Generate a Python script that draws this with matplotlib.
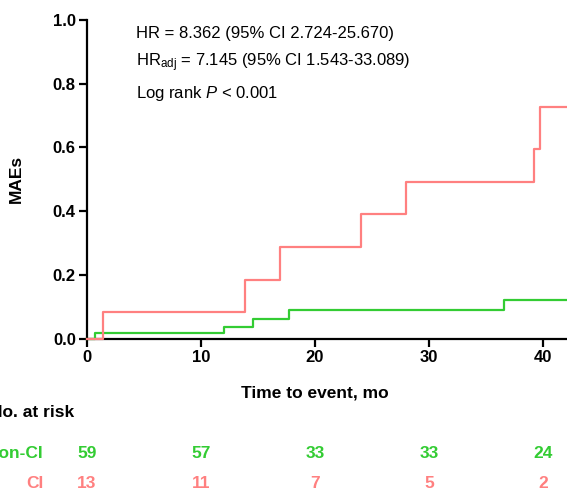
import matplotlib
matplotlib.use("Agg")
import matplotlib.pyplot as plt
import matplotlib.transforms as mtransforms

plt.rcParams['font.family'] = ['Liberation Sans', 'DejaVu Sans']
plt.rcParams['mathtext.fontset'] = 'custom'
plt.rcParams['mathtext.rm'] = 'Liberation Sans'
plt.rcParams['mathtext.it'] = 'Liberation Sans:italic'
plt.rcParams['mathtext.bf'] = 'Liberation Sans:bold'

# curve data (cumulative incidence of MAEs)
ci_time = [0, 1.4, 13.9, 16.9, 24.0, 28.0, 39.2, 39.7, 42.2]
ci_mae = [0, 0.083, 0.185, 0.288, 0.390, 0.492, 0.594, 0.728, 0.728]
nonci_time = [0, 0.7, 12.0, 14.6, 17.7, 36.6, 42.2]
nonci_mae = [0, 0.018, 0.037, 0.063, 0.090, 0.121, 0.121]

# numbers at risk
risk_times = [0, 10, 20, 30, 40]
risk_nonci = [59, 57, 33, 33, 24]
risk_ci = [13, 11, 7, 5, 2]

red = '#FF8080'
green = '#33CC33'

fig = plt.figure(figsize=(5.67, 4.91), dpi=100)
ax = fig.add_axes([0.1534, 0.3102, 0.8466, 0.6491])

ax.step(nonci_time, nonci_mae, where='post', color=green, lw=1.6, clip_on=False, zorder=3)
ax.step(ci_time, ci_mae, where='post', color=red, lw=1.6, clip_on=False, zorder=3)

ax.set_xlim(0, 42.1)
ax.set_ylim(0, 1.0)
ax.set_xticks([0, 10, 20, 30, 40])
ax.set_yticks([0, 0.2, 0.4, 0.6, 0.8, 1.0])
ax.set_yticklabels(['0.0', '0.2', '0.4', '0.6', '0.8', '1.0'])
for s in ['top', 'right']:
    ax.spines[s].set_visible(False)
for s in ['left', 'bottom']:
    ax.spines[s].set_linewidth(1.6)
ax.tick_params(width=1.6, length=5.5, labelsize=12, pad=2.5)
for lab in ax.get_xticklabels() + ax.get_yticklabels():
    lab.set_fontweight('bold')
ax.set_ylabel('MAEs', fontsize=12.5, fontweight='bold')
ax.yaxis.set_label_coords(-0.131, 0.5)

ax.text(4.3, 0.958, 'HR = 8.362 (95% CI 2.724-25.670)', fontsize=12, va='center')
ax.text(4.3, 0.866, r'HR$_{\mathrm{adj}}$ = 7.145 (95% CI 1.543-33.089)', fontsize=12, va='center')
ax.text(4.3, 0.768, r'Log rank $\mathit{P}$ < 0.001', fontsize=12, va='center')

blend = mtransforms.blended_transform_factory(ax.transData, fig.transFigure)
fig.text(20, 0.2, 'Time to event, mo', transform=blend, ha='center', va='center',
         fontsize=12.5, fontweight='bold')

fig.text(-0.017, 0.159, 'No. at risk', ha='left', va='center', fontsize=12.5, fontweight='bold')
fig.text(0.076, 0.0754, 'Non-CI', ha='right', va='center', fontsize=12.5, fontweight='bold', color=green)
fig.text(0.076, 0.0143, 'CI', ha='right', va='center', fontsize=12.5, fontweight='bold', color=red)
for t, n1, n2 in zip(risk_times, risk_nonci, risk_ci):
    fig.text(t, 0.0754, str(n1), transform=blend, ha='center', va='center',
             fontsize=12.5, fontweight='bold', color=green)
    fig.text(t, 0.0143, str(n2), transform=blend, ha='center', va='center',
             fontsize=12.5, fontweight='bold', color=red)

fig.savefig('out.png', dpi=100)
